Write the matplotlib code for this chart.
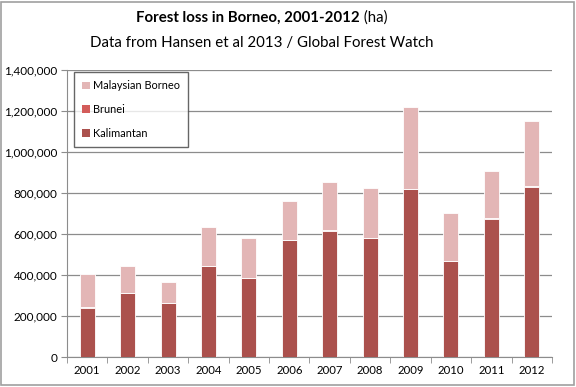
import matplotlib
matplotlib.use("Agg")
import matplotlib.pyplot as plt
import numpy as np
from matplotlib.ticker import FuncFormatter, MultipleLocator
from matplotlib.patches import Rectangle

years = ["2001", "2002", "2003", "2004", "2005", "2006", "2007", "2008", "2009", "2010", "2011", "2012"]
kalimantan = [240000, 311000, 262000, 442000, 384000, 569000, 615000, 579000, 818000, 467000, 672000, 828000]
brunei = [3000, 3000, 2000, 4000, 3000, 4000, 4000, 3000, 4000, 3000, 4000, 5000]
malaysian = [160000, 130000, 102000, 188000, 193000, 188000, 235000, 242000, 399000, 232000, 233000, 318000]

c_kal = "#ab514d"
c_bru = "#d35c5a"
c_mal = "#e3b6b6"

plt.rcParams['font.family'] = ['Lato', 'DejaVu Sans']

fig = plt.figure(figsize=(5.76, 3.87), dpi=100)
fig.patches.append(Rectangle((0.002, 0.006), 0.994, 0.99, transform=fig.transFigure,
                             fill=False, edgecolor="#a0a0a0", linewidth=1.2))
ax = fig.add_axes([0.1163, 0.0775, 0.8420, 0.7415])

x = np.arange(len(years))
w = 0.37
k = np.array(kalimantan)
b = np.array(brunei)
m = np.array(malaysian)
ax.bar(x, k, w, color=c_kal, edgecolor="white", linewidth=0.6, label="Kalimantan", zorder=3)
ax.bar(x, b, w, bottom=k, color=c_bru, edgecolor="white", linewidth=0.6, label="Brunei", zorder=3)
ax.bar(x, m, w, bottom=k + b, color=c_mal, edgecolor="white", linewidth=0.6, label="Malaysian Borneo", zorder=3)

ax.set_xlim(-0.5, len(years) - 0.5)
ax.set_ylim(0, 1400000)
ax.yaxis.set_major_locator(MultipleLocator(200000))
ax.yaxis.set_major_formatter(FuncFormatter(lambda v, p: f"{int(v):,}"))
ax.grid(axis="y", color="#8c8c8c", linewidth=0.9, zorder=0)
ax.set_axisbelow(True)

ax.set_xticks(x)
ax.set_xticklabels(years)
ax.set_xticks(np.arange(-0.5, len(years) + 0.5, 1), minor=True)
ax.tick_params(axis="x", which="major", length=0, pad=6, labelsize=8.2)
ax.tick_params(axis="x", which="minor", length=4, color="#8c8c8c", direction="out")
ax.tick_params(axis="y", length=4, color="#8c8c8c", labelsize=8.5, pad=3)

for s in ["top", "right"]:
    ax.spines[s].set_visible(False)
ax.spines["left"].set_color("#8c8c8c")
ax.spines["bottom"].set_color("#8c8c8c")

handles, labels = ax.get_legend_handles_labels()
leg = ax.legend(handles[::-1], labels[::-1], loc="upper left", bbox_to_anchor=(0.014, 0.993),
                fontsize=7.9, frameon=True, fancybox=False, edgecolor="#404040",
                handlelength=0.7, handleheight=0.7, handletextpad=0.3,
                labelspacing=1.15, borderpad=0.75, borderaxespad=0)
leg.get_frame().set_linewidth(1.0)
for h in leg.legend_handles:
    h.set_edgecolor("none")

fs = 10.8
fig.canvas.draw()
r = fig.canvas.get_renderer()
t1 = fig.text(0, 0.955, "Forest loss in Borneo, 2001-2012", ha="left", va="center",
              fontsize=fs, fontweight="bold")
t2 = fig.text(0, 0.955, " (ha)", ha="left", va="center", fontsize=fs)
w1 = t1.get_window_extent(r).width
w2 = t2.get_window_extent(r).width
cx = 262
start = cx - (w1 + w2) / 2
t1.set_x(start / fig.bbox.width)
t2.set_x((start + w1) / fig.bbox.width)
fig.text(cx / fig.bbox.width, 0.89, "Data from Hansen et al 2013 / Global Forest Watch",
         ha="center", va="center", fontsize=fs)

fig.savefig("out.png", dpi=100)
